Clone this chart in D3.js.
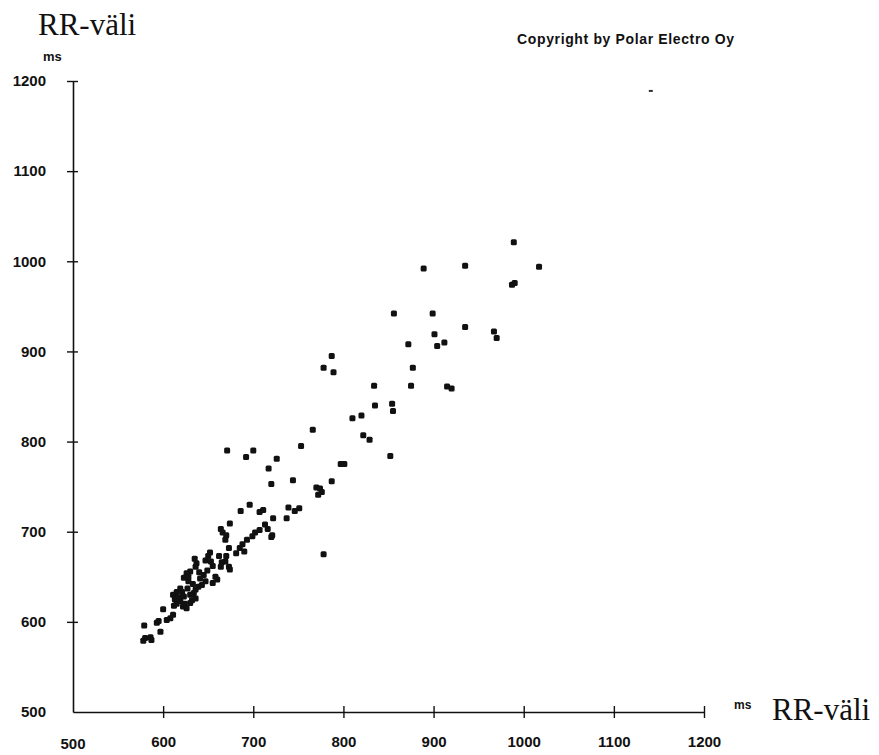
<!DOCTYPE html>
<html>
<head>
<meta charset="utf-8">
<script src="https://cdn.jsdelivr.net/npm/d3@7"></script>
<style>
  body { margin: 0; background: #fff; }
  svg { display: block; }
  .tick text { font-family: Arial, "Liberation Sans", sans-serif; font-weight: bold; font-size: 15px; fill: #111; }
</style>
</head>
<body>
<div id="chart"></div>
<script>
var w = 879;
var h = 755;

// RR interval n (x) vs RR interval n+1 (y), ms
var rrX = [989, 889, 935, 1017, 987, 990, 856, 899, 935, 901, 912, 904, 872, 967, 970,
    787, 789, 778, 834, 875, 877, 915, 920, 835, 854, 855, 810, 820, 822, 829, 852, 797, 801, 787,
    766, 671, 692, 700, 753, 726, 717, 744, 720, 770, 776, 772, 774,
    696, 686, 707, 711, 739, 746, 751, 737, 722, 674, 664, 666, 670, 669, 713, 716,
    707, 702, 699, 721, 720, 693, 688, 685, 690, 681, 778, 673, 670, 669,
    652, 650, 647, 653, 635, 637, 636, 662, 665, 664, 673, 674,
    626, 630, 628, 623, 658, 660, 655, 647, 643, 639, 636, 634, 630,
    619, 615, 611, 613, 623, 619, 624, 622, 626, 632, 636, 630,
    600, 611, 608, 604, 595, 593, 579, 597, 580, 578, 586, 587,
    615, 617, 621, 627, 633, 641, 645, 649, 655, 640, 628, 612];
var rrY = [1021, 992, 995, 994, 974, 976, 942, 942, 927, 919, 910, 906, 908, 922, 915,
    895, 877, 882, 862, 862, 882, 861, 859, 840, 842, 834, 826, 829, 807, 802, 784, 775, 775, 756,
    813, 790, 783, 790, 795, 781, 770, 757, 753, 749, 744, 741, 748,
    730, 723, 722, 724, 727, 723, 726, 715, 715, 709, 703, 699, 696, 691, 708, 703,
    702, 699, 695, 696, 694, 691, 686, 682, 678, 676, 675, 682, 673, 667,
    677, 673, 668, 667, 670, 665, 661, 673, 666, 661, 661, 658,
    654, 656, 650, 649, 650, 647, 643, 645, 641, 639, 636, 632, 630,
    637, 633, 630, 625, 628, 623, 620, 617, 615, 624, 626, 621,
    614, 608, 604, 602, 601, 599, 596, 589, 582, 579, 583, 580,
    620, 627, 633, 637, 642, 648, 652, 657, 662, 655, 645, 618];
// faint isolated mark near the top right
var strayX = [1141];
var strayY = [1189];

var xTicks = [500, 600, 700, 800, 900, 1000, 1100, 1200];
var yTicks = [500, 600, 700, 800, 900, 1000, 1100, 1200];

var points = rrX.map(function(d, i) { return { x: d, y: rrY[i] }; });
var stray = strayX.map(function(d, i) { return { x: d, y: strayY[i] }; });

var svg = d3.select("#chart")
            .append("svg")
            .attr("width", w)
            .attr("height", h);

var xScale = d3.scaleLinear().domain([500, 1200]).range([73, 704]);
var yScale = d3.scaleLinear().domain([500, 1200]).range([712, 81]);
var fmt = d3.format("d");

// y axis, ticks cross the line
var yAxis = svg.append("g")
    .attr("transform", "translate(73,0)")
    .call(d3.axisLeft(yScale).tickValues(yTicks.slice(1)).tickFormat(fmt).tickSizeOuter(0).tickSizeInner(6));
yAxis.select(".domain").attr("stroke", "#111").attr("stroke-width", 1.6);
yAxis.selectAll(".tick line").attr("x1", 5).attr("x2", -6).attr("stroke", "#111").attr("stroke-width", 1.4);
yAxis.selectAll(".tick text").attr("x", -27);
// 500 label sits at the corner
svg.append("text")
    .attr("x", 46).attr("y", yScale(500)).attr("dy", "0.35em")
    .attr("text-anchor", "end")
    .style("font-family", "Arial, 'Liberation Sans', sans-serif")
    .style("font-weight", "bold").style("font-size", "15px").style("fill", "#111")
    .text(fmt(yTicks[0]));

// x axis
var xAxis = svg.append("g")
    .attr("transform", "translate(0,712)")
    .call(d3.axisBottom(xScale).tickValues(xTicks.slice(1)).tickFormat(fmt).tickSizeOuter(0).tickSizeInner(6));
xAxis.select(".domain").attr("stroke", "#111").attr("stroke-width", 1.6);
xAxis.selectAll(".tick line").attr("y1", -6).attr("y2", 6).attr("stroke", "#111").attr("stroke-width", 1.4);
xAxis.selectAll(".tick text").attr("y", 24);
svg.append("text")
    .attr("x", xScale(500)).attr("y", 738).attr("dy", "0.71em")
    .attr("text-anchor", "middle")
    .style("font-family", "Arial, 'Liberation Sans', sans-serif")
    .style("font-weight", "bold").style("font-size", "15px").style("fill", "#111")
    .text(fmt(xTicks[0]));

// points
svg.append("g")
    .selectAll("rect")
    .data(points)
    .enter()
    .append("rect")
    .attr("x", function(d) { return xScale(d.x) - 3; })
    .attr("y", function(d) { return yScale(d.y) - 3; })
    .attr("width", 6)
    .attr("height", 6)
    .attr("rx", 1.5)
    .attr("fill", "#111");

svg.append("g")
    .selectAll("rect")
    .data(stray)
    .enter()
    .append("rect")
    .attr("x", function(d) { return xScale(d.x) - 2; })
    .attr("y", function(d) { return yScale(d.y) - 1; })
    .attr("width", 4)
    .attr("height", 2)
    .attr("fill", "#333");

// titles
svg.append("text")
    .attr("x", 38).attr("y", 35)
    .style("font-family", "'Liberation Serif', 'Times New Roman', serif")
    .style("font-size", "31px").style("fill", "#111")
    .text("RR-väli");
svg.append("text")
    .attr("x", 43).attr("y", 61)
    .style("font-family", "Arial, 'Liberation Sans', sans-serif")
    .style("font-weight", "bold").style("font-size", "13px").style("fill", "#111")
    .text("ms");
svg.append("text")
    .attr("x", 734).attr("y", 709)
    .style("font-family", "Arial, 'Liberation Sans', sans-serif")
    .style("font-weight", "bold").style("font-size", "12px").style("fill", "#111")
    .text("ms");
svg.append("text")
    .attr("x", 772).attr("y", 720)
    .style("font-family", "'Liberation Serif', 'Times New Roman', serif")
    .style("font-size", "31px").style("fill", "#111")
    .text("RR-väli");
svg.append("text")
    .attr("x", 517).attr("y", 44)
    .attr("textLength", 217)
    .style("font-family", "Arial, 'Liberation Sans', sans-serif")
    .style("font-weight", "bold").style("font-size", "14px").style("fill", "#111")
    .text("Copyright by Polar Electro Oy");
</script>
</body>
</html>
